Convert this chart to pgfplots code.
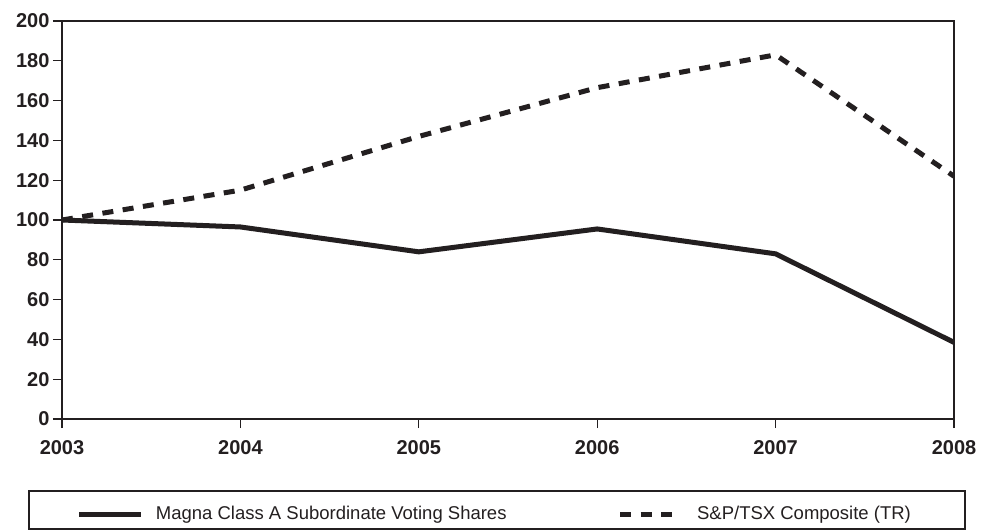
\documentclass[border=0pt]{standalone}
\usepackage{pgfplots}
\pgfplotsset{compat=1.18}
\usepackage{fontspec}
\setmainfont{Liberation Sans}
\definecolor{dark}{HTML}{231F20}
\pgfplotsset{
  legsolid/.style={legend image code/.code={\draw[##1] (0pt,0pt) -- (62pt,0pt);}},
  legdash/.style={legend image code/.code={\path[draw=none] (0pt,0pt) -- (65pt,0pt); \draw[##1] (0pt,0pt) -- (52.5pt,0pt);}},
}
\begin{document}
\begin{tikzpicture}
\useasboundingbox (0,0) rectangle (982pt,530pt);
\begin{axis}[
  at={(62pt,111pt)}, anchor=south west,
  scale only axis, width=892pt, height=398pt,
  xmin=0, xmax=5, ymin=0, ymax=200,
  xtick={0,1,2,3,4,5},
  xticklabels={2003,2004,2005,2006,2007,2008},
  ytick={0,20,...,200},
  tick align=outside, tick pos=left, major tick length=9pt,
  axis line style={line width=1.3pt, color=dark},
  tick style={line width=1.3pt, color=dark},
  ticklabel style={font=\fontsize{20}{23}\selectfont\bfseries, text=dark},
  xticklabel style={yshift=-9pt},
  /pgf/number format/assume math mode=true,
  legend columns=2,
  legend style={draw=none, fill=none, inner sep=0pt,
    at={(0.0165,-0.2387)}, anchor=west,
    nodes={inner sep=0pt, font=\fontsize{18.5}{21}\selectfont, text=dark},
    /tikz/every odd column/.append style={column sep=12pt},
    /tikz/every even column/.append style={column sep=111pt}},
]
\addplot[line width=5pt, color=dark, legsolid]
  coordinates {(0,100) (1,96.5) (2,84) (3,95.5) (4,83) (5,38.5)};
\addlegendentry{Magna Class A Subordinate Voting Shares}
\addplot[line width=5pt, color=dark, dash pattern=on 11pt off 9.5pt, legdash]
  coordinates {(0,100) (1,115) (2,142) (3,166.5) (4,183) (5,122)};
\addlegendentry{S\&P/TSX Composite (TR)}
\end{axis}
\draw[line width=1.3pt, dark] (29pt,1pt) rectangle (965pt,39pt);
\end{tikzpicture}
\end{document}
